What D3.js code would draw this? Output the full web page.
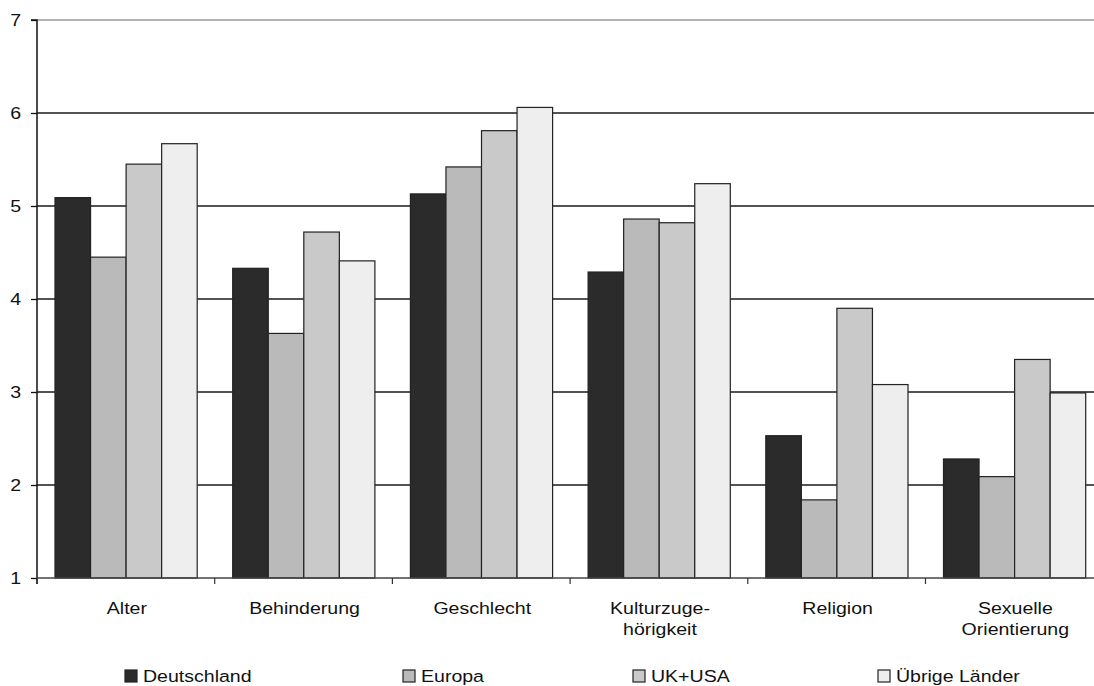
<!DOCTYPE html>
<html>
<head>
<meta charset="utf-8">
<script src="https://cdn.jsdelivr.net/npm/d3@7"></script>
<style>
  html, body { margin: 0; padding: 0; background: #fff; }
  svg { display: block; }
  text { font-family: "Liberation Sans", Arial, sans-serif; fill: #111; }
</style>
</head>
<body>
<svg id="chart" width="1094" height="686"></svg>
<script>
// Categories (multi-line labels split by "\n")
const categories = ["Alter", "Behinderung", "Geschlecht", "Kulturzuge-\nhörigkeit", "Religion", "Sexuelle\nOrientierung"];
const seriesNames = ["Deutschland", "Europa", "UK+USA", "Übrige Länder"];
const deutschland = [5.09, 4.33, 5.13, 4.29, 2.53, 2.28];
const europa      = [4.45, 3.63, 5.42, 4.86, 1.84, 2.09];
const ukUsa       = [5.45, 4.72, 5.81, 4.82, 3.90, 3.35];
const uebrige     = [5.67, 4.41, 6.06, 5.24, 3.08, 2.99];
const yTicks = [1, 2, 3, 4, 5, 6, 7];
const seriesColors = ["#2b2b2b", "#bababa", "#c9c9c9", "#eeeeee"];

const seriesValues = [deutschland, europa, ukUsa, uebrige];

const svg = d3.select("#chart");
const stretch = 1.15;   // horizontal text stretch
const fontSize = 17;

const plotLeft = 37, plotTop = 20, plotBottom = 578;
const bandW = 177.7;
const x0 = d3.scaleBand().domain(categories).range([plotLeft, plotLeft + bandW * categories.length]).padding(0);
const x1 = d3.scaleBand().domain(seriesNames).range([18, bandW - 17.5]).padding(0);
const y = d3.scaleLinear().domain([1, 7]).range([plotBottom, plotTop]);

// Gridlines
svg.append("g").selectAll("line")
  .data(yTicks.filter(t => t > 1))
  .join("line")
  .attr("x1", plotLeft).attr("x2", 1094)
  .attr("y1", d => y(d)).attr("y2", d => y(d))
  .attr("stroke", d => d === 7 ? "#9a9a9a" : "#1a1a1a")
  .attr("stroke-width", d => d === 7 ? 1.3 : 1.6);

// Bars
const groups = svg.append("g").selectAll("g")
  .data(categories)
  .join("g")
  .attr("transform", d => `translate(${x0(d)},0)`);

groups.selectAll("rect")
  .data((c, ci) => seriesNames.map((s, si) => ({ s, si, v: seriesValues[si][ci] })))
  .join("rect")
  .attr("x", d => x1(d.s))
  .attr("width", x1.bandwidth())
  .attr("y", d => y(d.v))
  .attr("height", d => y(1) - y(d.v))
  .attr("fill", d => seriesColors[d.si])
  .attr("stroke", "#222")
  .attr("stroke-width", 1.2);

// Y axis
const yAxis = d3.axisLeft(y).tickValues(yTicks).tickSize(6).tickPadding(7).tickFormat(d3.format("d"));
const yg = svg.append("g").attr("transform", `translate(${plotLeft},0)`).call(yAxis);
yg.select(".domain").attr("stroke", "#111").attr("stroke-width", 1.5).attr("d", `M-6,${plotTop}H0V${plotBottom + 6}`);
yg.selectAll(".tick line").attr("stroke", "#111").attr("stroke-width", 1.3);
yg.selectAll(".tick text")
  .attr("font-size", fontSize).attr("font-family", "Liberation Sans, Arial, sans-serif").attr("fill", "#111")
  .each(function() {
    const t = d3.select(this);
    const xx = +t.attr("x");
    t.attr("x", 0).attr("transform", `translate(${xx - 3},0) scale(${stretch},1)`);
  });

// X axis baseline and category ticks
const xg = svg.append("g");
xg.append("line")
  .attr("x1", plotLeft).attr("x2", 1094)
  .attr("y1", plotBottom).attr("y2", plotBottom)
  .attr("stroke", "#444").attr("stroke-width", 1.5);
const boundaries = categories.map(c => x0(c));
xg.selectAll("line.tk")
  .data(boundaries)
  .join("line")
  .attr("class", "tk")
  .attr("x1", d => d).attr("x2", d => d)
  .attr("y1", plotBottom).attr("y2", plotBottom + 6)
  .attr("stroke", "#333").attr("stroke-width", 1.2);

// Category labels
const catLabels = svg.append("g").selectAll("g")
  .data(categories)
  .join("g")
  .attr("transform", d => `translate(${x0(d) + bandW / 2 + 1},614) scale(${stretch},1)`);
catLabels.each(function(d) {
  const g = d3.select(this);
  d.split("\n").forEach((line, i) => {
    g.append("text")
      .attr("x", 0).attr("y", i * 21)
      .attr("text-anchor", "middle")
      .attr("font-size", fontSize)
      .text(line);
  });
});

// Legend
const legendX = [125, 403, 633, 878];
const legend = svg.append("g").selectAll("g")
  .data(seriesNames)
  .join("g")
  .attr("transform", (d, i) => `translate(${legendX[i]},670)`);
legend.append("rect")
  .attr("x", 0).attr("y", 0).attr("width", 12).attr("height", 12)
  .attr("fill", (d, i) => seriesColors[i])
  .attr("stroke", "#222").attr("stroke-width", 1.2);
legend.append("text")
  .attr("transform", `translate(18,12) scale(${stretch},1)`)
  .attr("font-size", fontSize)
  .text(d => d);
</script>
</body>
</html>
